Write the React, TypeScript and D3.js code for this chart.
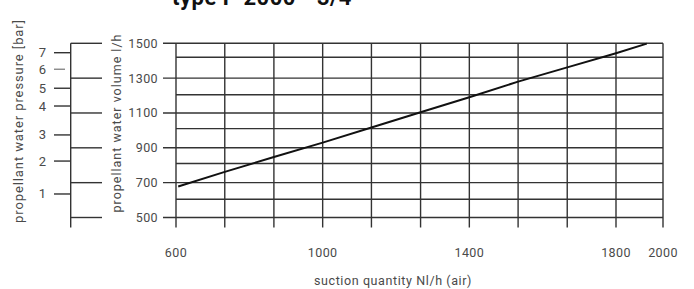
import React from 'react';
import * as d3 from 'd3';

// suction quantity grid (x) – the printed scale is uneven between 1800 and 2000
const xGridValues = [600, 733, 867, 1000, 1133, 1267, 1400, 1533, 1667, 1800, 2000];
const xTickLabels = [600, 1000, 1400, 1800, 2000];

// propellant water volume l/h
const volumeTicks = [500, 700, 900, 1100, 1300, 1500];
const volumeMinorGrid = [605, 810, 1010, 1205, 1420];

// propellant water pressure [bar], read against the volume axis
const pressureTicks = [1, 2, 3, 4, 5, 6, 7];
const pressureAtVolume = [635, 824, 974, 1140, 1242, 1351, 1446];

// characteristic curve
const suction = [606, 733, 867, 1000, 1133, 1267, 1400, 1533, 1667, 1800, 1931];
const volume = [678, 762, 847, 930, 1017, 1104, 1190, 1280, 1362, 1443, 1498];

const W = 694;
const H = 289;

const textColor = '#4a4a4a';
const gridColor = '#333';
const font = 'Roboto, "Liberation Sans", sans-serif';

const App: React.FC = () => {
  /* ---------- Scales ---------- */
  const x = d3.scaleLinear().domain([600, 1800, 2000]).range([176, 616, 663]);
  const y = d3.scaleLinear().domain([500, 1500]).range([217.5, 43.3]);

  const plotLeft = x(600);
  const plotRight = x(2000);
  const plotTop = y(1500);
  const plotBottom = y(500);
  const tickOut = 10;

  const pressureAxisX = 70.7;
  const connectorEnd = 102;
  const volumeTickStart = 163;

  const line = d3
    .line<number>()
    .x((_, i) => x(suction[i]))
    .y(d => y(d));

  return (
    <svg
      width={W}
      height={H}
      style={{ position: 'absolute', left: 0, top: 0, background: '#fff' }}
      fontFamily={font}
    >
      {/* title, cut off at the top edge as in the scan */}
      <text x={172} y={5} fontSize={22} fontWeight="bold" fill="#111" letterSpacing={0.5}>
        type P 2000 - 3/4
      </text>

      {/* ---------- Grid ---------- */}
      {volumeMinorGrid.map(v => (
        <line key={'mg' + v} x1={plotLeft} x2={plotRight} y1={y(v)} y2={y(v)} stroke={gridColor} strokeWidth={1.4} />
      ))}
      {volumeTicks.map(v => (
        <line key={'vg' + v} x1={volumeTickStart} x2={plotRight} y1={y(v)} y2={y(v)} stroke={gridColor} strokeWidth={1.4} />
      ))}
      {xGridValues.map(v => (
        <line key={'xg' + v} x1={x(v)} x2={x(v)} y1={plotTop} y2={plotBottom + tickOut} stroke={gridColor} strokeWidth={1.4} />
      ))}

      {/* ---------- X labels ---------- */}
      {xTickLabels.map(v => (
        <text key={'xl' + v} x={x(v)} y={252} textAnchor="middle" dominantBaseline="central" fontSize={12.5} fill={textColor} letterSpacing={0.4}>
          {v}
        </text>
      ))}
      <text x={393} y={280} textAnchor="middle" dominantBaseline="central" fontSize={12.5} fill={textColor} letterSpacing={0.6}>
        suction quantity Nl/h (air)
      </text>

      {/* ---------- Volume axis ---------- */}
      {volumeTicks.map(v => (
        <text key={'vl' + v} x={158} y={y(v)} textAnchor="end" dominantBaseline="central" fontSize={12.5} fill={textColor} letterSpacing={0.4}>
          {v}
        </text>
      ))}
      <text
        transform={`translate(116,123) rotate(-90)`}
        textAnchor="middle"
        dominantBaseline="central"
        fontSize={12.5}
        fill={textColor}
        letterSpacing={1}
      >
        propellant water volume l/h
      </text>

      {/* ---------- Pressure axis ---------- */}
      <line x1={pressureAxisX} x2={pressureAxisX} y1={plotTop} y2={plotBottom + tickOut} stroke={gridColor} strokeWidth={1.4} />
      {volumeTicks.map(v => (
        <line key={'cn' + v} x1={pressureAxisX} x2={connectorEnd} y1={y(v)} y2={y(v)} stroke={gridColor} strokeWidth={1.4} />
      ))}
      {pressureTicks.map((p, i) => (
        <g key={'p' + p}>
          <line
            x1={54}
            x2={p === 6 ? 65 : pressureAxisX}
            y1={y(pressureAtVolume[i])}
            y2={y(pressureAtVolume[i])}
            stroke={p === 6 ? '#888' : gridColor}
            strokeWidth={1.4}
          />
          <text x={46} y={y(pressureAtVolume[i])} textAnchor="end" dominantBaseline="central" fontSize={13} fill={textColor}>
            {p}
          </text>
        </g>
      ))}
      <text
        transform={`translate(18,121) rotate(-90)`}
        textAnchor="middle"
        dominantBaseline="central"
        fontSize={13}
        fill={textColor}
        letterSpacing={0.9}
      >
        propellant water pressure [bar]
      </text>

      {/* ---------- Curve ---------- */}
      <path d={line(volume) ?? ''} fill="none" stroke="#111" strokeWidth={2} />
    </svg>
  );
};

export default App;
